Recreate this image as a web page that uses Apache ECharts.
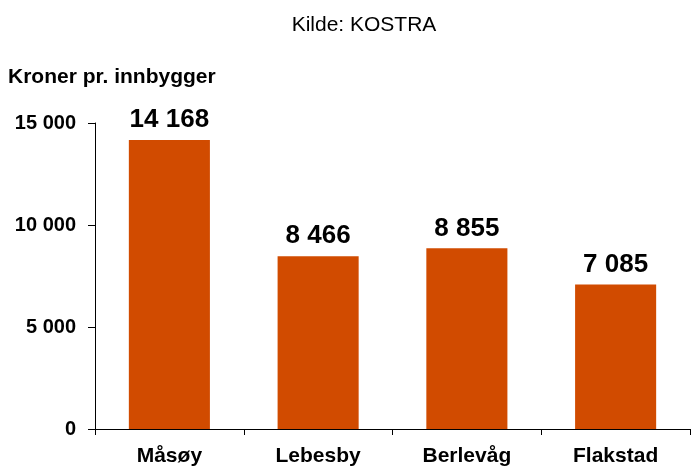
<!DOCTYPE html>
<html>
<head>
<meta charset="utf-8">
<script src="https://cdn.jsdelivr.net/npm/echarts@6/dist/echarts.min.js"></script>
<style>
  html, body { margin: 0; padding: 0; background: #fff; }
  #chart { width: 691px; height: 468px; }
</style>
</head>
<body>
<div id="chart"></div>
<script>
// Municipalities and spending per inhabitant (NOK)
const categories = ['Måsøy', 'Lebesby', 'Berlevåg', 'Flakstad'];
const values = [14168, 8466, 8855, 7085];
const yTicks = [0, 5000, 10000, 15000];

const fmt = v => String(v).replace(/\B(?=(\d{3})+(?!\d))/g, ' ');
const FONT = '"Liberation Sans", Arial, sans-serif';

const chart = echarts.init(document.getElementById('chart'), null, { renderer: 'canvas' });
chart.setOption({
  animation: false,
  backgroundColor: '#ffffff',
  title: {
    text: 'Kilde: KOSTRA',
    left: 359, top: 10,
    textAlign: 'center',
    textStyle: { fontFamily: FONT, fontSize: 21, fontWeight: 'normal', color: '#000' }
  },
  graphic: [{
    type: 'text', left: 8, top: 67,
    style: { text: 'Kroner pr. innbygger', font: 'bold 21px ' + FONT, fill: '#000' }
  }],
  grid: { left: 95, right: 1, top: 123, bottom: 39, containLabel: false },
  xAxis: {
    type: 'category',
    data: categories,
    axisLine: { lineStyle: { color: '#000', width: 1 } },
    axisTick: { show: true, inside: false, length: 6, alignWithLabel: false, lineStyle: { color: '#000' } },
    axisLabel: { margin: 17, fontFamily: FONT, fontSize: 21, fontWeight: 'bold', color: '#000' }
  },
  yAxis: {
    type: 'value',
    min: yTicks[0], max: yTicks[yTicks.length - 1], interval: 5000,
    splitLine: { show: false },
    axisLine: { show: true, lineStyle: { color: '#000', width: 1 } },
    axisTick: { show: true, inside: false, length: 7, lineStyle: { color: '#000' } },
    axisLabel: { margin: 19, fontFamily: FONT, fontSize: 20, fontWeight: 'bold', color: '#000', formatter: v => fmt(v) }
  },
  series: [{
    type: 'bar',
    data: values,
    barWidth: '54.5%',
    itemStyle: { color: '#D14B00' },
    label: {
      show: true, position: 'top', distance: 7,
      fontFamily: FONT, fontSize: 26, fontWeight: 'bold', color: '#000',
      formatter: p => fmt(p.value)
    }
  }]
});
</script>
</body>
</html>
